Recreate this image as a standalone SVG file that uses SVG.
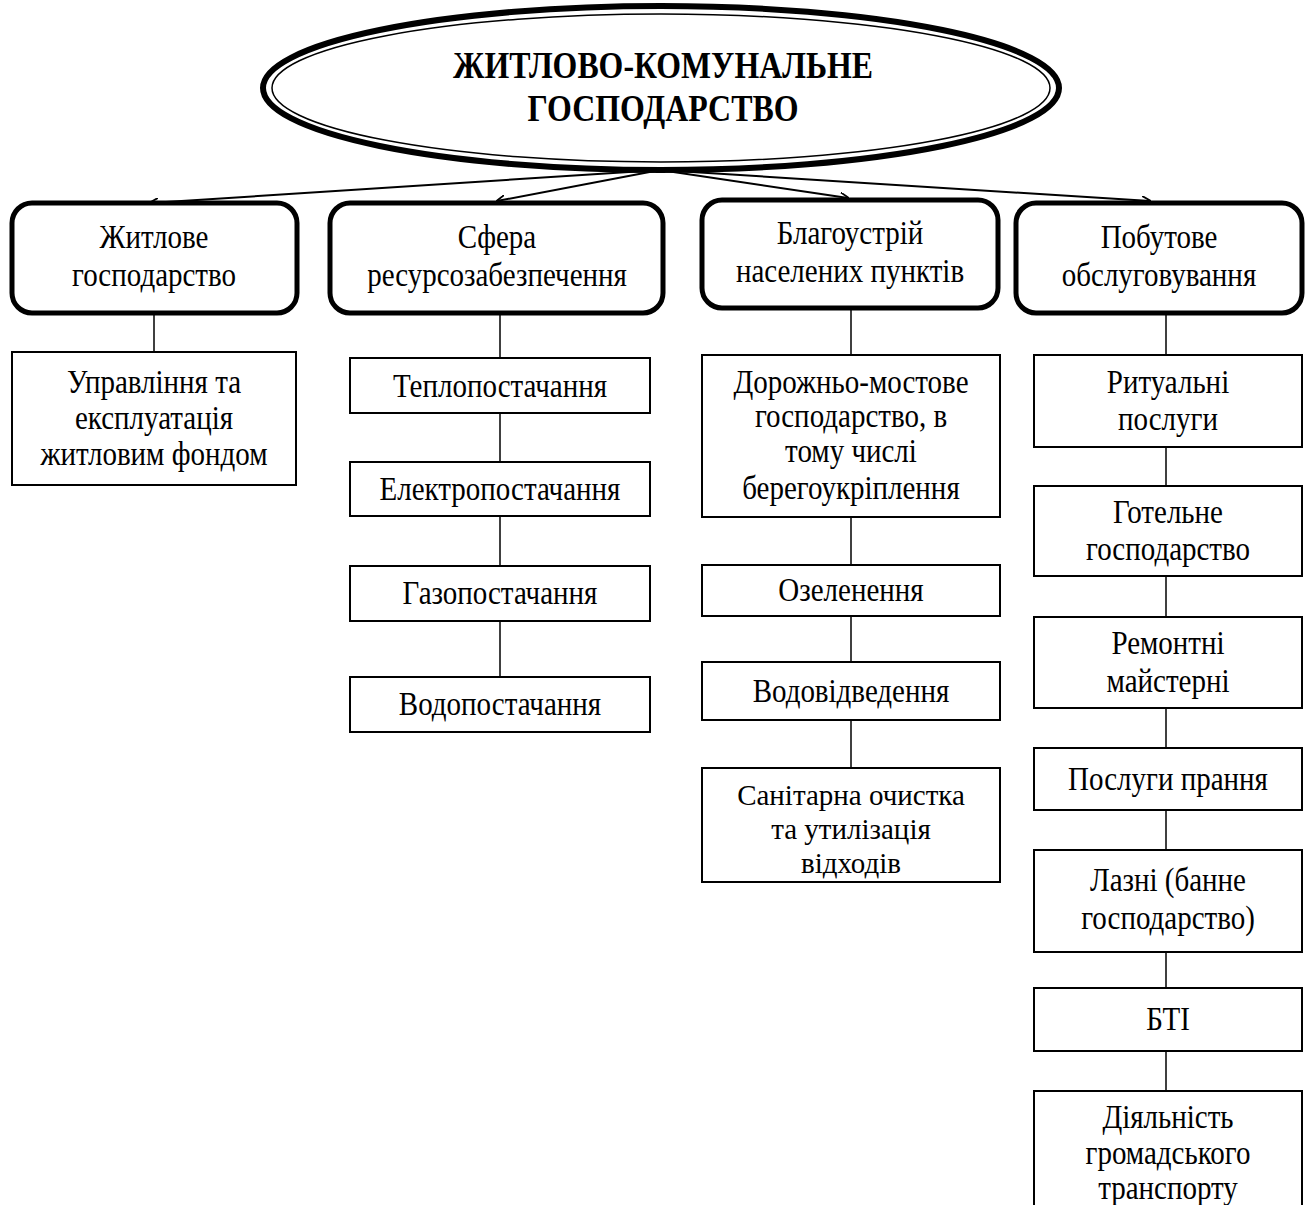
<svg xmlns="http://www.w3.org/2000/svg" width="1307" height="1205" viewBox="0 0 1307 1205">
<style>
text{font-family:"Liberation Serif","Times New Roman",serif;font-size:29px;fill:#000;text-anchor:middle;transform-box:fill-box;transform-origin:center;transform:scaleY(1.16)}
text.tight{transform:scaleY(1.04)}
.title{font-weight:bold;font-size:32px}
.top{fill:#fff;stroke:#000;stroke-width:5}
.box{fill:#fff;stroke:#000;stroke-width:2}
.ln{stroke:#000;stroke-width:1.5;fill:none}
.arr{stroke:#000;stroke-width:2;fill:none;marker-end:url(#ah)}
</style>
<defs>
<marker id="ah" viewBox="0 0 10 10" refX="9" refY="5" markerWidth="9" markerHeight="9" markerUnits="userSpaceOnUse" orient="auto">
<path d="M0,0 L10,5 L0,10" fill="none" stroke="#000" stroke-width="2"/>
</marker>
</defs>
<rect width="1307" height="1205" fill="#fff"/>
<g id="connectors">
<line class="arr" x1="660" y1="170" x2="150" y2="203"/>
<line class="arr" x1="660" y1="170" x2="497" y2="201"/>
<line class="arr" x1="660" y1="170" x2="848" y2="198"/>
<line class="arr" x1="660" y1="170" x2="1150" y2="201"/>
<line class="ln" x1="154" y1="313" x2="154" y2="352"/>
<line class="ln" x1="500" y1="313" x2="500" y2="358"/>
<line class="ln" x1="500" y1="413" x2="500" y2="462"/>
<line class="ln" x1="500" y1="516" x2="500" y2="566"/>
<line class="ln" x1="500" y1="621" x2="500" y2="677"/>
<line class="ln" x1="851" y1="309" x2="851" y2="355"/>
<line class="ln" x1="851" y1="517" x2="851" y2="565"/>
<line class="ln" x1="851" y1="616" x2="851" y2="662"/>
<line class="ln" x1="851" y1="720" x2="851" y2="768"/>
<line class="ln" x1="1166" y1="313" x2="1166" y2="355"/>
<line class="ln" x1="1166" y1="447" x2="1166" y2="486"/>
<line class="ln" x1="1166" y1="576" x2="1166" y2="617"/>
<line class="ln" x1="1166" y1="708" x2="1166" y2="748"/>
<line class="ln" x1="1166" y1="810" x2="1166" y2="850"/>
<line class="ln" x1="1166" y1="952" x2="1166" y2="988"/>
<line class="ln" x1="1166" y1="1051" x2="1166" y2="1091"/>
</g>
<g id="root">
<ellipse cx="661" cy="88" rx="398" ry="82" fill="#fff" stroke="#000" stroke-width="6"/>
<ellipse cx="661" cy="88" rx="389" ry="74" fill="none" stroke="#000" stroke-width="1.5"/>
<text class="title" x="663" y="76" textLength="420" lengthAdjust="spacingAndGlyphs">ЖИТЛОВО-КОМУНАЛЬНЕ</text>
<text class="title" x="663" y="119" textLength="271" lengthAdjust="spacingAndGlyphs">ГОСПОДАРСТВО</text>
</g>
<g id="n1"><rect class="top" x="12" y="203" width="285" height="110" rx="20"/>
<text x="154" y="246">Житлове</text><text x="154" y="284">господарство</text></g>
<g id="n2"><rect class="top" x="330" y="203" width="333" height="110" rx="20"/>
<text x="497" y="246">Сфера</text><text x="497" y="284">ресурсозабезпечення</text></g>
<g id="n3"><rect class="top" x="702" y="200" width="296" height="108" rx="20"/>
<text x="850" y="242">Благоустрій</text><text x="850" y="280">населених пунктів</text></g>
<g id="n4"><rect class="top" x="1016" y="203" width="286" height="110" rx="20"/>
<text x="1159" y="246">Побутове</text><text x="1159" y="284">обслуговування</text></g>

<g id="n1a"><rect class="box" x="12" y="352" width="284" height="133"/>
<text x="154" y="391">Управління та</text><text x="154" y="427">експлуатація</text><text x="154" y="463">житловим фондом</text></g>

<g id="n2a"><rect class="box" x="350" y="358" width="300" height="55"/><text x="500" y="395">Теплопостачання</text></g>
<g id="n2b"><rect class="box" x="350" y="462" width="300" height="54"/><text x="500" y="498">Електропостачання</text></g>
<g id="n2c"><rect class="box" x="350" y="566" width="300" height="55"/><text x="500" y="602">Газопостачання</text></g>
<g id="n2d"><rect class="box" x="350" y="677" width="300" height="55"/><text x="500" y="713">Водопостачання</text></g>

<g id="n3a"><rect class="box" x="702" y="355" width="298" height="162"/>
<text x="851" y="391">Дорожньо-мостове</text><text x="851" y="425">господарство, в</text><text x="851" y="460">тому числі</text><text x="851" y="497">берегоукріплення</text></g>
<g id="n3b"><rect class="box" x="702" y="565" width="298" height="51"/><text x="851" y="599">Озеленення</text></g>
<g id="n3c"><rect class="box" x="702" y="662" width="298" height="58"/><text x="851" y="700">Водовідведення</text></g>
<g id="n3d"><rect class="box" x="702" y="768" width="298" height="114"/>
<text class="tight" x="851" y="805">Санітарна очистка</text><text class="tight" x="851" y="839">та утилізація</text><text class="tight" x="851" y="873">відходів</text></g>

<g id="n4a"><rect class="box" x="1034" y="355" width="268" height="92"/>
<text x="1168" y="391">Ритуальні</text><text x="1168" y="428">послуги</text></g>
<g id="n4b"><rect class="box" x="1034" y="486" width="268" height="90"/>
<text x="1168" y="521">Готельне</text><text x="1168" y="558">господарство</text></g>
<g id="n4c"><rect class="box" x="1034" y="617" width="268" height="91"/>
<text x="1168" y="652">Ремонтні</text><text x="1168" y="690">майстерні</text></g>
<g id="n4d"><rect class="box" x="1034" y="748" width="268" height="62"/>
<text x="1168" y="788">Послуги прання</text></g>
<g id="n4e"><rect class="box" x="1034" y="850" width="268" height="102"/>
<text x="1168" y="889">Лазні (банне</text><text x="1168" y="927">господарство)</text></g>
<g id="n4f"><rect class="box" x="1034" y="988" width="268" height="63"/>
<text x="1168" y="1028">БТІ</text></g>
<g id="n4g"><rect class="box" x="1034" y="1091" width="268" height="130"/>
<text x="1168" y="1126">Діяльність</text><text x="1168" y="1162">громадського</text><text x="1168" y="1197">транспорту</text></g>
</svg>
